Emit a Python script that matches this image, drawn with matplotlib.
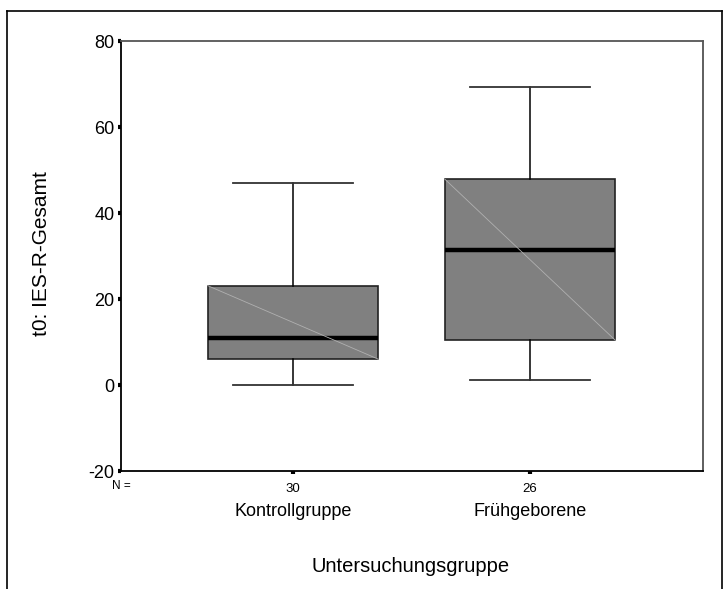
import matplotlib
matplotlib.use("Agg")
import matplotlib.pyplot as plt
from matplotlib.lines import Line2D
from matplotlib.transforms import blended_transform_factory

plt.rcParams['font.family'] = ['Liberation Sans', 'DejaVu Sans']

groups = ["Kontrollgruppe", "Frühgeborene"]
n_counts = [30, 26]
whisker_low = [0, 1.2]
q1 = [6, 10.4]
median = [10.9, 31.4]
q3 = [23.1, 47.9]
whisker_high = [47, 69.2]
yticks = [-20, 0, 20, 40, 60, 80]

fig = plt.figure(figsize=(7.23, 5.89), dpi=100)
ax = fig.add_axes([121/723, 1-471/589, (703-121)/723, (471-41)/589])

positions = [1, 2]
stats = []
for i, g in enumerate(groups):
    stats.append(dict(label=g, whislo=whisker_low[i], q1=q1[i], med=median[i],
                      q3=q3[i], whishi=whisker_high[i], fliers=[]))

bp = ax.bxp(stats, positions=positions, widths=0.72, patch_artist=True,
            showfliers=False, capwidths=0.51,
            boxprops=dict(facecolor='#808080', edgecolor='#222222', linewidth=1.2),
            medianprops=dict(color='black', linewidth=3.2),
            whiskerprops=dict(color='black', linewidth=1.1),
            capprops=dict(color='#333333', linewidth=1.3))

# diagonal lines inside boxes (SPSS artefact)
for i, p in enumerate(positions):
    ax.plot([p-0.36, p+0.36], [q3[i], q1[i]], color='#b0b0b0', linewidth=0.6, zorder=3)

ax.set_xlim(0.274, 2.73)
ax.set_ylim(-20, 80)
ax.set_yticks(yticks)
ax.set_yticklabels([str(t) for t in yticks], fontsize=13)
ax.set_xticks(positions)
ax.set_xticklabels([str(n) for n in n_counts], fontsize=9.5)
ax.tick_params(axis='y', direction='out', length=2.5, width=3, pad=2, color='black')
ax.tick_params(axis='x', direction='out', length=2.5, width=3, pad=6, color='black')

for s in ['left', 'bottom']:
    ax.spines[s].set_color('black')
    ax.spines[s].set_linewidth(1.3)
ax.spines['top'].set_color('#555555')
ax.spines['top'].set_linewidth(1.3)
ax.spines['right'].set_color('#333333')
ax.spines['right'].set_linewidth(1.1)

trans = blended_transform_factory(ax.transData, fig.transFigure)
ax.text(0, 1-486/589, "N =", transform=blended_transform_factory(ax.transAxes, fig.transFigure),
        fontsize=8.5, ha='center', va='center')
for i, g in enumerate(groups):
    ax.text(positions[i], 1-511/589, g, transform=trans, fontsize=13, ha='center', va='center')

fig.text(411/723, 1-567/589, "Untersuchungsgruppe", fontsize=14.5, ha='center', va='center')
fig.text(42/723, 1-254/589, "t0: IES-R-Gesamt", fontsize=15, ha='center', va='center', rotation=90)

# outer frame
frame_kw = dict(color='black', linewidth=1.2, transform=fig.transFigure)
fig.add_artist(Line2D([7/723, 7/723], [0, 1-11/589], **frame_kw))
fig.add_artist(Line2D([7/723, 722/723], [1-11/589, 1-11/589], **frame_kw))
fig.add_artist(Line2D([722/723, 722/723], [0, 1-11/589], **frame_kw))

fig.savefig("out.png", dpi=100)
